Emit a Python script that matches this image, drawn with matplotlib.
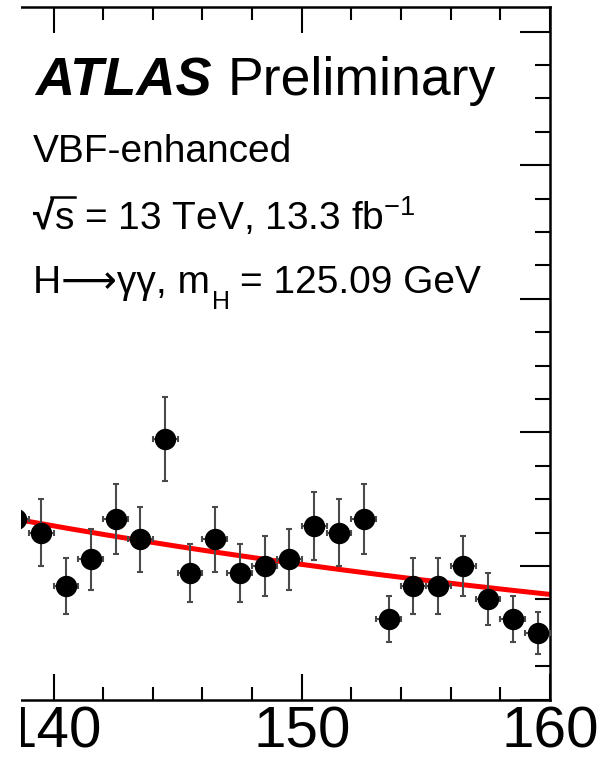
import numpy as np
import matplotlib
matplotlib.use('Agg')
import matplotlib.pyplot as plt
from matplotlib.patches import Rectangle
from matplotlib.lines import Line2D
from matplotlib.ticker import MultipleLocator

plt.rcParams['font.family'] = ['Liberation Sans', 'DejaVu Sans']
plt.rcParams['mathtext.fontset'] = 'custom'
plt.rcParams['mathtext.rm'] = 'Liberation Sans'
plt.rcParams['mathtext.it'] = 'Liberation Sans:italic'
plt.rcParams['mathtext.bf'] = 'Liberation Sans:bold'

# ---- data ----
mass = [138.5, 139.5, 140.5, 141.5, 142.5, 143.5, 144.5, 145.5, 146.5, 147.5, 148.5,
        149.5, 150.5, 151.5, 152.5, 153.5, 154.5, 155.5, 156.5, 157.5, 158.5, 159.5]
events = [27, 25, 17, 21, 27, 24, 39, 19, 24, 19, 20,
          21, 26, 25, 27, 12, 17, 17, 20, 15, 12, 10]
bin_half_width = 0.5
# background fit: N(m) = fit_norm * exp(fit_slope * (m - fit_ref))
fit_norm = 26.0
fit_slope = -0.0251
fit_ref = 140.0
x_range = (138.69, 160.0)
y_range = (0.0, 103.7)
x_ticks_major = 10
x_ticks_minor = 2
y_ticks_major = 20
y_ticks_minor = 5

W, H = 601, 759
fig = plt.figure(figsize=(W / 100, H / 100), dpi=100)
ax_left, ax_right, ax_top, ax_bottom = 21, 550, 7, 699.5
ax = fig.add_axes([ax_left / W, (H - ax_bottom) / H,
                   (ax_right - ax_left) / W, (ax_bottom - ax_top) / H])

mass_a = np.array(mass)
events_a = np.array(events, dtype=float)

# fit curve
xf = np.linspace(x_range[0] - 1, x_range[1] + 1, 300)
ax.plot(xf, fit_norm * np.exp(fit_slope * (xf - fit_ref)), color='#ff0000', lw=3.6, zorder=2)

# data points
ax.errorbar(mass_a, events_a, yerr=np.sqrt(events_a), xerr=bin_half_width,
            fmt='o', color='black', ms=14.4, ecolor='#4a4a4a', elinewidth=1.5,
            capsize=2.2, capthick=1.5, zorder=3)

ax.set_xlim(*x_range)
ax.set_ylim(*y_range)
ax.xaxis.set_major_locator(MultipleLocator(x_ticks_major))
ax.xaxis.set_minor_locator(MultipleLocator(x_ticks_minor))
ax.yaxis.set_major_locator(MultipleLocator(y_ticks_major))
ax.yaxis.set_minor_locator(MultipleLocator(y_ticks_minor))

ax.spines['left'].set_visible(False)
for s in ['right', 'top', 'bottom']:
    ax.spines[s].set_linewidth(1.8)

ax.tick_params(which='both', direction='in', top=True, right=True, left=False,
               labelleft=False, width=1.5)
ax.tick_params(axis='x', which='major', length=18.7, labelsize=42, pad=4)
ax.tick_params(axis='x', which='minor', length=9.4)
ax.tick_params(axis='y', which='major', length=21.6)
ax.tick_params(axis='y', which='minor', length=10.8)


def ftext(xpx, ypx, s, **kw):
    return fig.text(xpx / W, 1 - ypx / H, s, va='baseline', ha='left', **kw)


fig.canvas.draw()
renderer = fig.canvas.get_renderer()


def right_edge(t):
    return t.get_window_extent(renderer).x1


ftext(35, 95, 'ATLAS', fontsize=39, fontweight='bold', fontstyle='italic')
ftext(228, 95, 'Preliminary', fontsize=38.5)
ftext(33, 162, 'VBF-enhanced', fontsize=28)

# sqrt(s) line
t_rad = ftext(33, 230, '√', fontsize=28, fontweight='bold')
x_rad = right_edge(t_rad)
t_s = ftext(x_rad, 230, 's', fontsize=28, alpha=0)
x_s_end = right_edge(t_s)
ftext(x_rad, 230, r's = 13 TeV, 13.3 fb$^{\mathregular{-1}}$', fontsize=28)
bar_y = 1 - 197.0 / H
fig.add_artist(Line2D([(x_rad - 3) / (W), (x_s_end + 1) / W], [bar_y, bar_y],
                      transform=fig.transFigure, color='black', lw=1.8, zorder=50))

# H -> gamma gamma line
t_h = ftext(33, 293, 'H⟶γγ, m', fontsize=28)
x_m = right_edge(t_h)
t_sub = ftext(x_m + 2, 309, 'H', fontsize=18)
x_sub = right_edge(t_sub)
ftext(x_sub + 10, 293, '= 125.09 GeV', fontsize=28)

# white band: the picture is cropped at the left edge of the frame
fig.add_artist(Rectangle((0, 0), ax_left / W, 1, transform=fig.transFigure,
                         facecolor='white', edgecolor='none', zorder=100))

fig.savefig('out.png', dpi=100)
